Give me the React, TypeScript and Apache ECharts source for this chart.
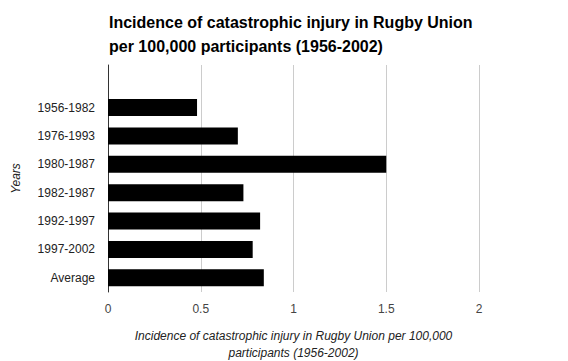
import React, { useEffect, useRef } from "react";
import * as echarts from "echarts";

const titleLines = [
  "Incidence of catastrophic injury in Rugby Union",
  "per 100,000 participants (1956-2002)",
];
const categories = [
  "1956-1982",
  "1976-1993",
  "1980-1987",
  "1982-1987",
  "1992-1997",
  "1997-2002",
  "Average",
];
const values = [0.48, 0.7, 1.5, 0.73, 0.82, 0.78, 0.84];
const xAxisTitle = "Incidence of catastrophic injury in Rugby Union per 100,000\nparticipants (1956-2002)";
const yAxisTitle = "Years";

const FONT = "'Liberation Sans', Arial, sans-serif";

export default function App() {
  const ref = useRef<HTMLDivElement>(null);
  useEffect(() => {
    document.body.style.margin = "0";
    const chart = echarts.init(ref.current!, null, { renderer: "svg" });
    chart.setOption({
      animation: false,
      backgroundColor: "#fff",
      title: {
        text: titleLines.join("\n"),
        left: 109,
        top: 10,
        padding: 0,
        textStyle: {
          fontFamily: FONT,
          fontSize: 16,
          fontWeight: "bold",
          color: "#000",
          lineHeight: 24,
        },
      },
      grid: {
        left: 108,
        right: 89,
        top: 65,
        bottom: 69,
        containLabel: false,
        outerBoundsMode: "none",
      },
      xAxis: {
        type: "value",
        min: 0,
        max: 2,
        interval: 0.5,
        axisLine: { show: false },
        axisTick: { show: false },
        axisLabel: { fontFamily: FONT, fontSize: 12, color: "#444", margin: 11 },
        splitLine: { show: true, lineStyle: { color: "#ccc", width: 1 } },
        name: xAxisTitle,
        nameLocation: "middle",
        nameGap: 35,
        nameTextStyle: {
          fontFamily: FONT,
          fontSize: 12,
          fontStyle: "italic",
          color: "#222",
          lineHeight: 17,
        },
      },
      yAxis: {
        type: "category",
        inverse: true,
        data: ["", ...categories],
        axisLine: { show: true, lineStyle: { color: "#333", width: 1 } },
        axisTick: { show: false },
        axisLabel: { fontFamily: FONT, fontSize: 12, color: "#222", margin: 13 },
        splitLine: { show: false },
        name: yAxisTitle,
        nameLocation: "middle",
        nameGap: 86,
        nameTextStyle: {
          fontFamily: FONT,
          fontSize: 12,
          fontStyle: "italic",
          color: "#222",
        },
      },
      series: [
        {
          type: "bar",
          data: [null, ...values],
          barWidth: "60%",
          itemStyle: { color: "#000" },
        },
      ],
    });
    return () => chart.dispose();
  }, []);
  return (
    <div
      ref={ref}
      style={{ position: "fixed", left: 0, top: 0, width: 568, height: 361 }}
    />
  );
}
